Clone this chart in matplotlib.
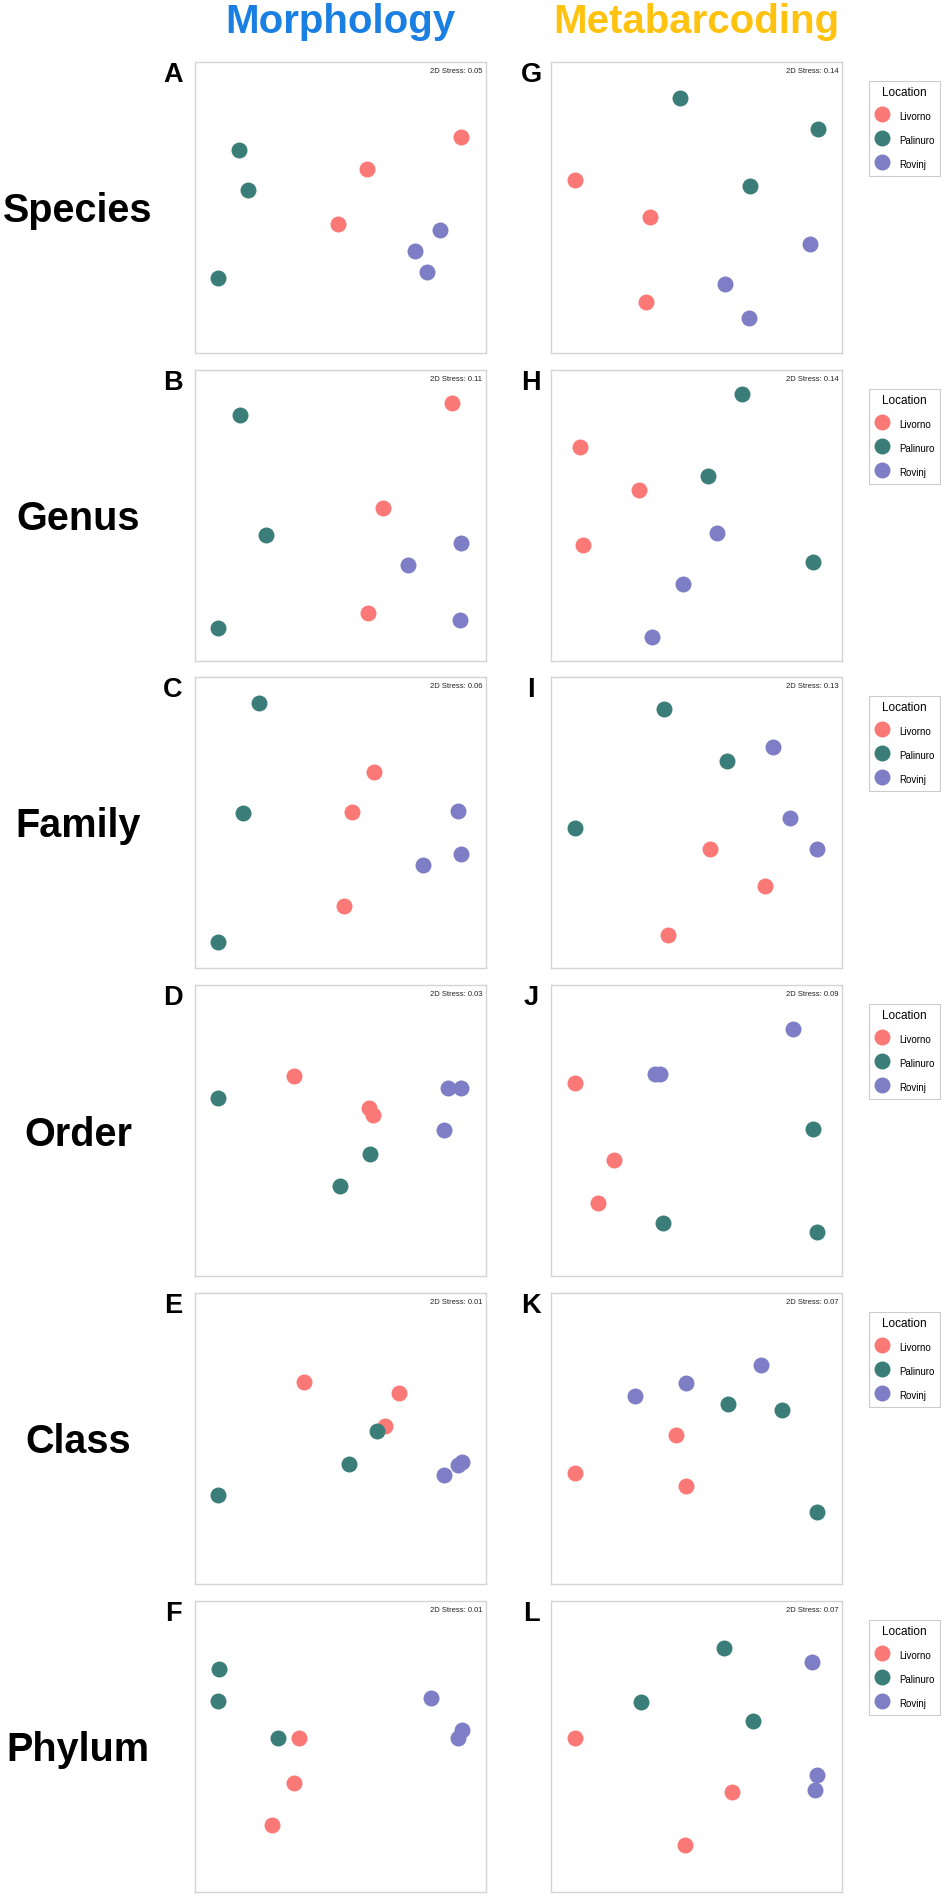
"""
NMDS panels: morphology vs metabarcoding, six taxonomic levels.
Coordinates are read off the original figure (axis fraction units).
"""
import numpy as np
import matplotlib
matplotlib.use('Agg')
import matplotlib.pyplot as plt
from matplotlib.lines import Line2D

plt.rcParams['font.family'] = ['Liberation Sans', 'DejaVu Sans']

# ===== DATA =====
sites = ['Livorno'] * 3 + ['Palinuro'] * 3 + ['Rovinj'] * 3
locations = ['Livorno', 'Palinuro', 'Rovinj']
levels = ['Species', 'Genus', 'Family', 'Order', 'Class', 'Phylum']
letters_morph = ['A', 'B', 'C', 'D', 'E', 'F']
letters_meta = ['G', 'H', 'I', 'J', 'K', 'L']
stress_morph = [0.05, 0.11, 0.06, 0.03, 0.01, 0.01]
stress_meta = [0.14, 0.14, 0.13, 0.09, 0.07, 0.07]

# morphology (left column)
A_x = [0.917, 0.593, 0.492, 0.154, 0.183, 0.081, 0.842, 0.757, 0.797]
A_y = [0.741, 0.633, 0.443, 0.699, 0.561, 0.257, 0.424, 0.351, 0.279]
B_x = [0.884, 0.648, 0.596, 0.155, 0.245, 0.082, 0.916, 0.735, 0.912]
B_y = [0.885, 0.525, 0.166, 0.847, 0.434, 0.114, 0.406, 0.331, 0.140]
C_x = [0.615, 0.541, 0.515, 0.221, 0.165, 0.082, 0.904, 0.916, 0.784]
C_y = [0.672, 0.536, 0.213, 0.911, 0.533, 0.088, 0.539, 0.393, 0.353]
D_x = [0.342, 0.599, 0.612, 0.082, 0.603, 0.499, 0.870, 0.916, 0.858]
D_y = [0.689, 0.577, 0.554, 0.612, 0.420, 0.310, 0.647, 0.647, 0.502]
E_x = [0.376, 0.703, 0.654, 0.082, 0.531, 0.628, 0.857, 0.904, 0.918]
E_y = [0.693, 0.657, 0.544, 0.307, 0.414, 0.527, 0.375, 0.409, 0.418]
F_x = [0.360, 0.340, 0.266, 0.085, 0.082, 0.288, 0.812, 0.918, 0.904]
F_y = [0.528, 0.376, 0.231, 0.768, 0.656, 0.528, 0.666, 0.557, 0.530]

# metabarcoding (right column)
G_x = [0.083, 0.341, 0.326, 0.445, 0.917, 0.686, 0.892, 0.599, 0.680]
G_y = [0.594, 0.467, 0.175, 0.878, 0.769, 0.574, 0.376, 0.238, 0.121]
H_x = [0.100, 0.302, 0.111, 0.658, 0.541, 0.900, 0.572, 0.453, 0.349]
H_y = [0.735, 0.586, 0.400, 0.917, 0.635, 0.341, 0.441, 0.266, 0.082]
I_x = [0.547, 0.737, 0.402, 0.391, 0.606, 0.084, 0.763, 0.822, 0.916]
I_y = [0.409, 0.281, 0.112, 0.889, 0.711, 0.482, 0.761, 0.516, 0.409]
J_x = [0.084, 0.216, 0.161, 0.900, 0.386, 0.916, 0.834, 0.360, 0.375]
J_y = [0.664, 0.400, 0.251, 0.506, 0.182, 0.151, 0.850, 0.694, 0.694]
K_x = [0.084, 0.430, 0.465, 0.608, 0.795, 0.916, 0.288, 0.465, 0.721]
K_y = [0.382, 0.511, 0.338, 0.618, 0.598, 0.248, 0.646, 0.690, 0.752]
L_x = [0.084, 0.622, 0.460, 0.595, 0.311, 0.695, 0.897, 0.916, 0.909]
L_y = [0.528, 0.342, 0.162, 0.839, 0.653, 0.587, 0.789, 0.403, 0.352]

morph_xy = [(A_x, A_y), (B_x, B_y), (C_x, C_y), (D_x, D_y), (E_x, E_y), (F_x, F_y)]
meta_xy = [(G_x, G_y), (H_x, H_y), (I_x, I_y), (J_x, J_y), (K_x, K_y), (L_x, L_y)]

# ===== STYLE =====
COLORS = {'Livorno': '#FA7876', 'Palinuro': '#3B7D78', 'Rovinj': '#7E7EC6'}
FRAME = '#d4d4d4'
W, H = 945, 1899
DPI = 100
MS = 11.5            # marker diameter in pt (~16 px)

ROW_TOPS = [63, 371, 678, 986, 1294, 1602]   # px from top
PANEL = 291                                    # px
X_LEFT, X_RIGHT = 194.6, 550.7


def fx(px):
    return px / W


def fy(px):
    return 1 - px / H


def draw_panel(ax, xs, ys, stress):
    xs = np.asarray(xs)
    ys = np.asarray(ys)
    site_arr = np.asarray(sites)
    for loc in locations:
        m = site_arr == loc
        ax.scatter(xs[m], ys[m], s=MS ** 2, color=COLORS[loc], linewidths=0, zorder=3)
    ax.set_xlim(0, 1)
    ax.set_ylim(0, 1)
    ax.set_xticks([])
    ax.set_yticks([])
    for sp in ax.spines.values():
        sp.set_color(FRAME)
        sp.set_linewidth(1.0)
    ax.text(0.988, 0.982, f'2D Stress: {stress:.2f}', transform=ax.transAxes,
            ha='right', va='top', fontsize=5.5, color='#222222')


fig = plt.figure(figsize=(W / DPI, H / DPI), dpi=DPI)

# column titles
fig.text(fx(340), fy(33), 'Morphology', ha='center', va='baseline',
         fontsize=29, fontweight='bold', color='#1A7FE3')
fig.text(fx(696), fy(33), 'Metabarcoding', ha='center', va='baseline',
         fontsize=29, fontweight='bold', color='#FFC20E')

handles = [Line2D([], [], marker='o', ls='none', markersize=MS,
                  markerfacecolor=COLORS[l], markeredgewidth=0, label=l)
           for l in locations]

for i, top in enumerate(ROW_TOPS):
    bottom = fy(top + PANEL)
    axl = fig.add_axes([fx(X_LEFT), bottom, fx(PANEL), PANEL / H])
    axr = fig.add_axes([fx(X_RIGHT), bottom, fx(PANEL), PANEL / H])
    draw_panel(axl, *morph_xy[i], stress_morph[i])
    draw_panel(axr, *meta_xy[i], stress_meta[i])

    # row label, cap centred on panel
    fig.text(fx(78), fy(top + PANEL / 2 + 14), levels[i], ha='center',
             va='baseline', fontsize=28.5, fontweight='bold')
    # panel letters
    fig.text(fx(173), fy(top + 19), letters_morph[i], ha='center',
             va='baseline', fontsize=19.5, fontweight='bold')
    fig.text(fx(531), fy(top + 19), letters_meta[i], ha='center',
             va='baseline', fontsize=19.5, fontweight='bold')

    leg = axr.legend(handles=handles, title='Location', loc='upper left',
                     bbox_to_anchor=((869 - X_RIGHT) / PANEL, 1 - 19 / PANEL),
                     fontsize=7, title_fontsize=8.5, frameon=True,
                     fancybox=False, edgecolor='#cccccc', framealpha=1,
                     borderaxespad=0, borderpad=0.5, handlelength=1.75,
                     handleheight=1.8, handletextpad=0.9, labelspacing=1.1)
    leg.get_frame().set_linewidth(0.8)

fig.savefig('out.png', dpi=DPI)
